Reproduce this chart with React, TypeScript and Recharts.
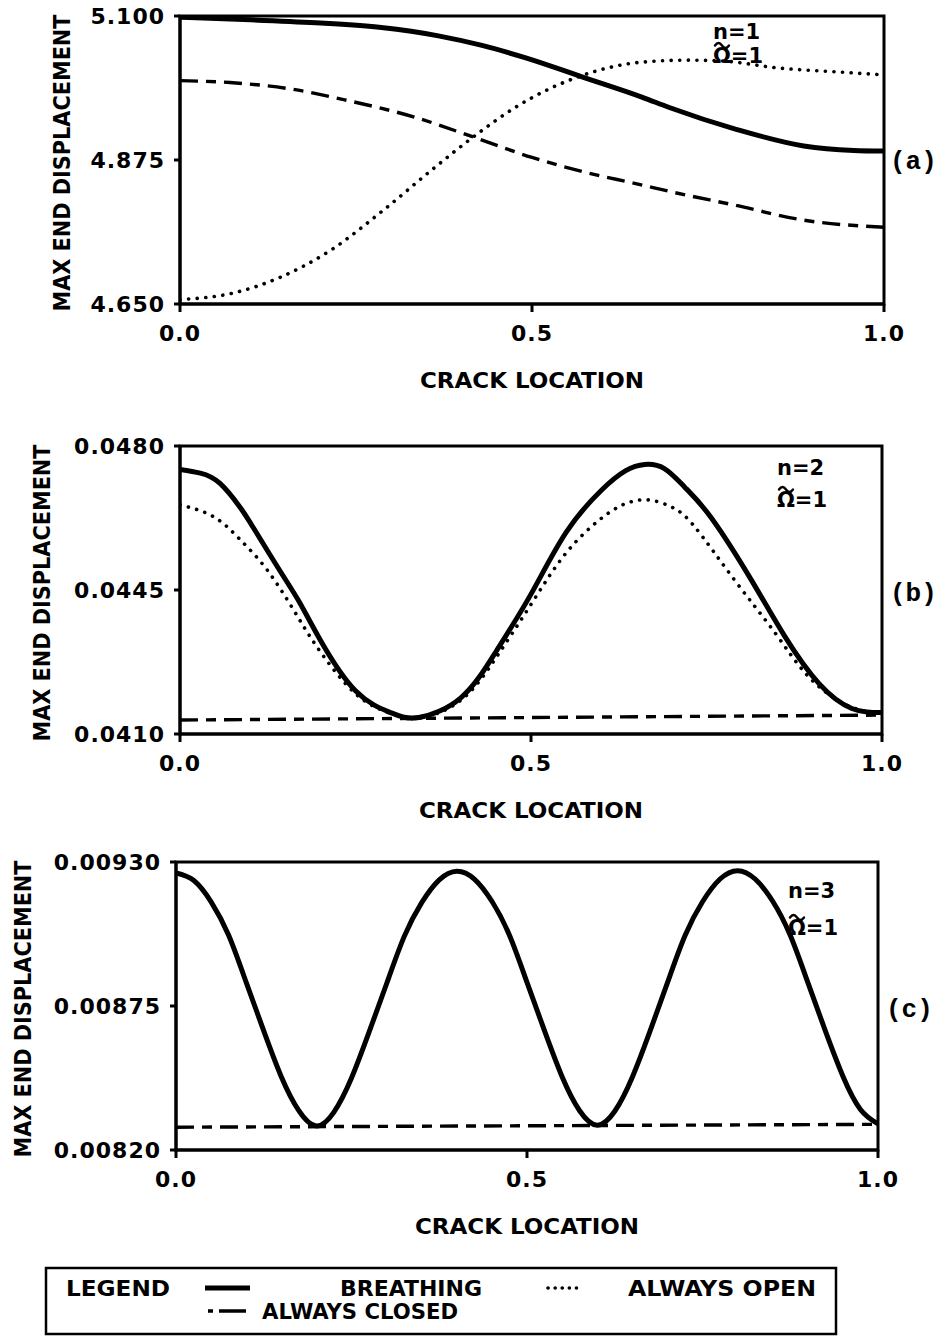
import React from "react";
import { LineChart, Line, XAxis, YAxis, Label, ReferenceArea } from "recharts";

type Pt = [number, number];

const X_TICKS = [0, 0.5, 1];

// (a) n = 1
const A_TICKS = [4.65, 4.875, 5.1];
const A_BREATHING: Pt[] = [
  [0, 5.098], [0.1, 5.094], [0.2, 5.089], [0.286, 5.082], [0.367, 5.069], [0.429, 5.054],
  [0.49, 5.035], [0.571, 5.005], [0.657, 4.973], [0.695, 4.957], [0.79, 4.923],
  [0.886, 4.897], [0.957, 4.89], [1, 4.889],
];
const A_OPEN: Pt[] = [
  [0, 4.657], [0.071, 4.666], [0.143, 4.692], [0.214, 4.734], [0.286, 4.794], [0.357, 4.859],
  [0.419, 4.913], [0.476, 4.957], [0.571, 5.007], [0.657, 5.028], [0.72, 5.031], [0.767, 5.03],
  [0.848, 5.019], [0.943, 5.012], [1, 5.008],
];
const A_CLOSED: Pt[] = [
  [0, 4.999], [0.071, 4.996], [0.157, 4.986], [0.238, 4.968], [0.333, 4.942], [0.419, 4.91],
  [0.5, 4.879], [0.571, 4.857], [0.652, 4.837], [0.695, 4.826], [0.79, 4.804], [0.886, 4.781],
  [1, 4.77],
];

// (b) n = 2
const B_TICKS = [0.041, 0.0445, 0.048];
const B_BREATHING: Pt[] = [
  [0, 0.04743], [0.029, 0.04734], [0.057, 0.04709], [0.086, 0.0465], [0.105, 0.046],
  [0.143, 0.04495], [0.171, 0.04418], [0.2, 0.04328], [0.25, 0.04205], [0.3, 0.04152],
  [0.34, 0.0414], [0.4, 0.04188], [0.45, 0.043], [0.5, 0.0444], [0.55, 0.0459], [0.6, 0.04692],
  [0.635, 0.0474], [0.662, 0.04755], [0.69, 0.04745], [0.719, 0.047], [0.757, 0.04625],
  [0.814, 0.04474], [0.862, 0.04336], [0.91, 0.04223], [0.957, 0.04162], [1, 0.04152],
];
const B_OPEN: Pt[] = [
  [0, 0.04657], [0.048, 0.04628], [0.086, 0.04572], [0.124, 0.04499], [0.162, 0.04401],
  [0.195, 0.04312], [0.25, 0.04198], [0.3, 0.0415], [0.34, 0.04138], [0.4, 0.04182],
  [0.45, 0.04285], [0.5, 0.04415], [0.55, 0.0454], [0.6, 0.04624], [0.635, 0.0466],
  [0.667, 0.04669], [0.7, 0.04652], [0.733, 0.04604], [0.79, 0.04474], [0.848, 0.04345],
  [0.895, 0.0424], [0.95, 0.0417], [1, 0.0415],
];
const B_CLOSED: Pt[] = [[0, 0.04134], [0.5, 0.0414], [1, 0.04146]];

// (c) n = 3
const C_TICKS = [0.0082, 0.00875, 0.0093];
const C_BREATHING: Pt[] = [
  [0, 0.009258], [0.025, 0.00923], [0.05, 0.009148], [0.075, 0.00902], [0.1, 0.00884],
  [0.125, 0.008655], [0.15, 0.00848], [0.175, 0.00835], [0.2, 0.008292], [0.225, 0.008345],
  [0.25, 0.008475], [0.275, 0.00865], [0.3, 0.008835], [0.325, 0.009015], [0.35, 0.009145],
  [0.375, 0.009232], [0.4, 0.009265], [0.425, 0.009235], [0.45, 0.00915], [0.475, 0.00902],
  [0.5, 0.00884], [0.525, 0.008655], [0.55, 0.00848], [0.575, 0.00835], [0.6, 0.008295],
  [0.625, 0.008348], [0.65, 0.008478], [0.675, 0.008652], [0.7, 0.008838], [0.725, 0.009018],
  [0.75, 0.009148], [0.775, 0.009235], [0.8, 0.009267], [0.825, 0.009235], [0.85, 0.00915],
  [0.875, 0.00902], [0.9, 0.00884], [0.925, 0.008655], [0.95, 0.008482], [0.975, 0.008355],
  [1, 0.0083],
];
const C_CLOSED: Pt[] = [[0, 0.008287], [1, 0.008298]];

const INK = "#000";
const SANS = "'DejaVu Sans', sans-serif";
const COND = "'DejaVu Sans Condensed', 'DejaVu Sans', sans-serif";
const MONO = "'Liberation Mono', monospace";
const TICK_FONT = { fontFamily: SANS, fontSize: 22, fontWeight: 700, fill: INK, letterSpacing: 1 };

const PAD_TOP = 16;
const PLOT_H = 288;
const AXIS_H = 92;
const Y_AXIS_W = 110;
const W = 948;

const rows = (pts: Pt[]) => pts.map(([x, y]) => ({ x, y }));

type Curve = "monotone" | "natural";

type PanelProps = {
  plotTop: number;
  plotLeft: number;
  plotRight: number;
  ticks: number[];
  digits: number;
  labelX: number;
  curve: Curve;
  breathing: Pt[];
  open?: Pt[];
  closed: Pt[];
};

function Panel(p: PanelProps) {
  const H = PAD_TOP + PLOT_H + AXIS_H + 4;
  const lo = p.ticks[0];
  const hi = p.ticks[p.ticks.length - 1];
  const midX = (p.plotLeft + p.plotRight) / 2;
  return (
    <div style={{ position: "absolute", left: 0, top: p.plotTop - PAD_TOP }}>
      <LineChart
        width={W}
        height={H}
        margin={{ top: PAD_TOP, right: W - p.plotRight, bottom: 4, left: p.plotLeft - Y_AXIS_W }}
      >
        <XAxis
          dataKey="x"
          type="number"
          domain={[0, 1]}
          ticks={X_TICKS}
          interval={0}
          allowDataOverflow
          height={AXIS_H}
          tickFormatter={(v: number) => v.toFixed(1)}
          stroke={INK}
          strokeWidth={3}
          tickSize={8}
          tickMargin={13}
          tick={TICK_FONT}
        >
          <Label
            content={() => (
              <text
                x={midX}
                y={PAD_TOP + PLOT_H + 84}
                textAnchor="middle"
                fontFamily={COND}
                fontWeight={700}
                fontSize={22}
                textLength={224}
                lengthAdjust="spacingAndGlyphs"
                fill={INK}
              >
                CRACK LOCATION
              </text>
            )}
          />
        </XAxis>
        <YAxis
          type="number"
          domain={[lo, hi]}
          ticks={p.ticks}
          interval={0}
          allowDataOverflow
          width={Y_AXIS_W}
          tickFormatter={(v: number) => v.toFixed(p.digits)}
          stroke={INK}
          strokeWidth={3}
          tickSize={6}
          tickMargin={9}
          tick={TICK_FONT}
        >
          <Label
            content={() => (
              <text
                transform={`translate(${p.labelX}, ${PAD_TOP + PLOT_H / 2 + 3}) rotate(-90)`}
                textAnchor="middle"
                dy="0.36em"
                fontFamily={COND}
                fontWeight={700}
                fontSize={23}
                textLength={297}
                lengthAdjust="spacingAndGlyphs"
                fill={INK}
              >
                MAX END DISPLACEMENT
              </text>
            )}
          />
        </YAxis>
        <ReferenceArea x1={0} x2={1} y1={lo} y2={hi} fill="none" stroke={INK} strokeWidth={3} ifOverflow="visible" />
        <Line
          data={rows(p.closed)}
          dataKey="y"
          type="monotone"
          stroke={INK}
          strokeWidth={3.4}
          strokeDasharray="18 8 10 8"
          dot={false}
          isAnimationActive={false}
        />
        {p.open && (
          <Line
            data={rows(p.open)}
            dataKey="y"
            type={p.curve}
            stroke={INK}
            strokeWidth={3.6}
            strokeDasharray="0.1 8.5"
            strokeLinecap="round"
            dot={false}
            isAnimationActive={false}
          />
        )}
        <Line
          data={rows(p.breathing)}
          dataKey="y"
          type={p.curve}
          stroke={INK}
          strokeWidth={5}
          dot={false}
          isAnimationActive={false}
        />
      </LineChart>
    </div>
  );
}

// "n = ..." over "Ω̃ = 1"; the tilde is drawn as a small stroke above the Ω
function Note({ x, y1, y2, n }: { x: number; y1: number; y2: number; n: string }) {
  const ty = y2 - 19;
  return (
    <g fontFamily={SANS} fontWeight={700} fontSize={21} fill={INK}>
      <text x={x} y={y1}>{`n=${n}`}</text>
      <path
        d={`M ${x + 2} ${ty + 1.5} q 3.5 -5 7 0 t 7 0`}
        fill="none"
        stroke={INK}
        strokeWidth={2.4}
        strokeLinecap="round"
      />
      <text x={x} y={y2}>{"\u03A9=1"}</text>
    </g>
  );
}

function Overlay() {
  const legendFont = { fontFamily: COND, fontWeight: 700, fontSize: 21, fill: INK };
  return (
    <svg
      width={W}
      height={1336}
      style={{ position: "absolute", left: 0, top: 0, pointerEvents: "none" }}
    >
      <Note x={713} y1={39} y2={63} n="1" />
      <Note x={777} y1={475} y2={507} n="2" />
      <Note x={788} y1={898} y2={935} n="3" />
      <g fontFamily={MONO} fontWeight={700} fontSize={26} fill={INK}>
        <text x={890} y={169}>(a)</text>
        <text x={890} y={601}>(b)</text>
        <text x={886} y={1017}>(c)</text>
      </g>
      <rect x={46} y={1268} width={790} height={66} fill="none" stroke={INK} strokeWidth={2.5} />
      <text x={66} y={1296} textLength={104} lengthAdjust="spacingAndGlyphs" {...legendFont}>LEGEND</text>
      <line x1={205} y1={1288} x2={250} y2={1288} stroke={INK} strokeWidth={5} />
      <text x={340} y={1296} textLength={142} lengthAdjust="spacingAndGlyphs" {...legendFont}>BREATHING</text>
      <line x1={548} y1={1288} x2={582} y2={1288} stroke={INK} strokeWidth={3.6} strokeDasharray="0.1 7" strokeLinecap="round" />
      <text x={628} y={1296} textLength={188} lengthAdjust="spacingAndGlyphs" {...legendFont}>ALWAYS OPEN</text>
      <line x1={208} y1={1311} x2={246} y2={1311} stroke={INK} strokeWidth={3.6} strokeDasharray="5 6 27" />
      <text x={262} y={1319} textLength={196} lengthAdjust="spacingAndGlyphs" {...legendFont}>ALWAYS CLOSED</text>
    </svg>
  );
}

export default function App() {
  return (
    <div style={{ position: "absolute", left: 0, top: 0, width: W, height: 1336, background: "#fff" }}>
      <Panel
        plotTop={16}
        plotLeft={180}
        plotRight={884}
        ticks={A_TICKS}
        digits={3}
        labelX={62}
        curve="monotone"
        breathing={A_BREATHING}
        open={A_OPEN}
        closed={A_CLOSED}
      />
      <Panel
        plotTop={446}
        plotLeft={180}
        plotRight={882}
        ticks={B_TICKS}
        digits={4}
        labelX={42}
        curve="natural"
        breathing={B_BREATHING}
        open={B_OPEN}
        closed={B_CLOSED}
      />
      <Panel
        plotTop={862}
        plotLeft={176}
        plotRight={878}
        ticks={C_TICKS}
        digits={5}
        labelX={23}
        curve="natural"
        breathing={C_BREATHING}
        closed={C_CLOSED}
      />
      <Overlay />
    </div>
  );
}
